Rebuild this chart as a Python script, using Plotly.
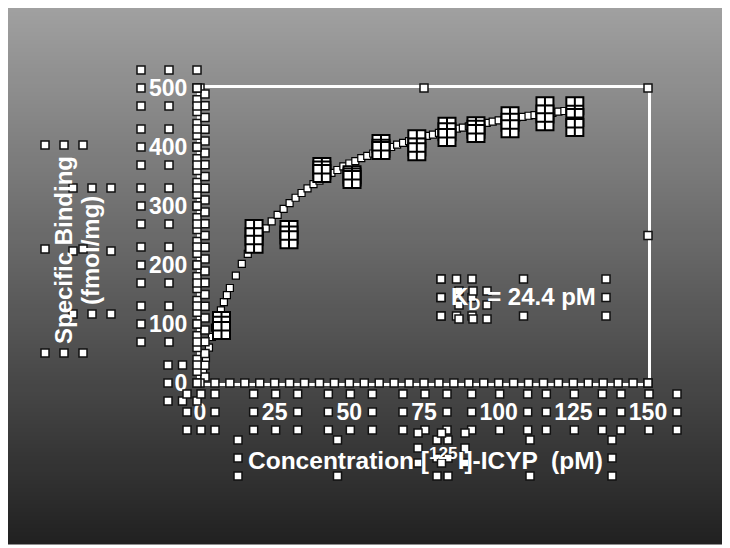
import plotly.graph_objects as go

# ---------------- data ----------------
conc = [7.2, 18.1, 29.8, 40.8, 50.9, 60.6, 72.6, 82.7, 92.4, 103.8, 115.5, 125.5]
rep_a = [106, 262, 260, 367, 353, 406, 414, 435, 436, 453, 470, 470]
rep_b = [98, 248, 251, 361, 349, 398, 400, 426, 430, 442, 456, 450]
rep_c = [89, 235, 243, 355, 345, 394, 392, 416, 423, 431, 443, 433]

fit_x = [0, 1, 2, 3, 4, 5, 6, 7, 8, 9, 10, 12, 14, 16, 18, 20, 22, 24, 26, 28, 30,
         32, 34, 36, 38, 40, 42, 44, 46, 48, 50, 52, 54, 56, 58, 60, 62, 64, 66, 68,
         70, 72, 74, 76, 78, 80, 82, 84, 86, 88, 90, 92, 94, 96, 98, 100, 102, 104,
         106, 108, 110, 112, 114, 116, 118, 120, 122, 124, 126]
fit_y = [0, 22, 42, 60, 78, 94, 109, 123, 137, 149, 161, 182, 202, 219, 235, 249,
         262, 274, 285, 295, 305, 314, 322, 330, 337, 343, 350, 356, 361, 367, 372,
         376, 381, 385, 389, 393, 397, 400, 404, 407, 410, 413, 416, 419, 421, 424,
         426, 429, 431, 433, 435, 437, 439, 441, 443, 445, 446, 448, 450, 451, 453,
         454, 455, 457, 458, 460, 461, 462, 463]

x_ticks = [0, 25, 50, 75, 100, 125, 150]
y_ticks = [0, 100, 200, 300, 400, 500]
x_title = "Concentration [<sup>125</sup>I]-ICYP &nbsp;(pM)"
y_title_1 = "Specific Binding"
y_title_2 = "(fmol/mg)"
kd_text = "K<sub>D</sub> = 24.4 pM"

# ---------------- layout geometry (page pixels; page has 8px body margin) ----------------
OFF = 8
W, H = 730 - OFF, 548 - OFF
PL, PR, PT, PB = 200, 648, 88, 383      # plot area in page pixels
L, R, T, B = PL - OFF, PR - OFF, PT - OFF, PB - OFF
XMAX, YMAX = 150.0, 500.0


def pxp(px):
    """page x pixel -> paper fraction"""
    return (px - PL) / (PR - PL)


def pyp(py):
    """page y pixel -> paper fraction"""
    return (PB - py) / (PB - PT)


def box_handles(x0, x1, y0, y1):
    xm, ym = (x0 + x1) / 2, (y0 + y1) / 2
    return [(x0, y0), (xm, y0), (x1, y0), (x0, ym), (x1, ym), (x0, y1), (xm, y1), (x1, y1)]


FONT = "Liberation Sans, Arial, sans-serif"

fig = go.Figure()

# background gradient (page y 4 .. 544, x 4 .. 730)
shapes = []
n = 135
for i in range(n):
    p0 = 4 + i * 4
    p1 = p0 + 4.5
    c = int(round(161 - (161 - 33) * (p0 + 2 - 4) / 540))
    shapes.append(dict(type="rect", xref="paper", yref="paper",
                       x0=pxp(4), x1=pxp(740), y0=pyp(p1), y1=pyp(p0),
                       fillcolor=f"rgb({c},{c},{c})", line=dict(width=0), layer="below"))

# fitted curve (small square markers)
fig.add_trace(go.Scatter(x=fit_x, y=fit_y, mode="markers",
                         marker=dict(symbol="square", size=7, color="white",
                                     line=dict(color="black", width=1.2)),
                         cliponaxis=False, showlegend=False, hoverinfo="skip"))

# replicate data points
for reps in (rep_a, rep_b, rep_c):
    fig.add_trace(go.Scatter(x=conc, y=reps, mode="markers",
                             marker=dict(symbol="square-cross", size=17, color="white",
                                         line=dict(color="black", width=2)),
                             cliponaxis=False, showlegend=False))

# selection handles (decoration derived from element boxes / axes), page pixels
sx = (PR - PL) / XMAX
sy = (PB - PT) / YMAX
hp = []
for (hx, hy) in [(PL, PT), ((PL + PR) / 2, PT), (PR, PT), (PR, (PT + PB) / 2), (PR, PB)]:
    hp.append((hx, hy))
for k, v in enumerate(range(0, 501, 10)):
    hp.append((PL - 3 if k % 2 == 0 else PL + 5, PB - v * sy))
for v in range(0, 151, 5):
    hp.append((PL + v * sx, PB))
for v in y_ticks:
    cy = PB - v * sy
    w = 56 if v >= 100 else 29
    hp += box_handles(197 - w, 197, cy - 18, cy + 18)
for v in x_ticks:
    cx = PL + v * sx
    hw = 28 if v >= 100 else (22 if v >= 10 else 14)
    hp += box_handles(cx + 1 - hw, cx + 1 + hw, 394, 430)
hp += box_handles(45, 83, 145, 353)
hp += box_handles(73, 111, 188, 314)
hp += box_handles(238, 437, 440, 476)
hp += box_handles(448, 612, 440, 476)
hp += box_handles(418, 465, 433, 463)
hp += box_handles(441, 606, 279, 316)
hp += box_handles(441, 472, 279, 316)
hp += box_handles(459, 487, 291, 319)

for (hx, hy) in hp:
    shapes.append(dict(type="rect", xref="paper", yref="paper",
                       xsizemode="pixel", ysizemode="pixel",
                       xanchor=pxp(hx), yanchor=pyp(hy),
                       x0=-4, x1=4, y0=-4, y1=4,
                       fillcolor="white", line=dict(color="#111111", width=1.5),
                       layer="above"))


def ann(text, px, py, size, angle=0):
    return dict(text=text, x=pxp(px), y=pyp(py), xref="paper", yref="paper",
                xanchor="center", yanchor="middle", showarrow=False, textangle=angle,
                font=dict(family=FONT, size=size, color="white", weight=700))


annotations = [
    ann(y_title_1, 63, 250, 24, -90),
    ann(y_title_2, 91, 251, 24, -90),
    ann(x_title, 425, 458, 24.5),
    ann(kd_text, 523, 298, 24),
]

fig.update_layout(
    width=W, height=H,
    margin=dict(l=L, r=W - R, t=T, b=H - B, pad=0),
    paper_bgcolor="white", plot_bgcolor="rgba(0,0,0,0)",
    shapes=shapes, annotations=annotations,
    xaxis=dict(range=[0, XMAX], tickvals=x_ticks, showgrid=False, zeroline=False,
               showline=True, linecolor="white", linewidth=3, mirror=True,
               ticks="", ticklabelstandoff=6,
               tickfont=dict(family=FONT, size=23, color="white", weight=700)),
    yaxis=dict(range=[0, YMAX], tickvals=y_ticks, showgrid=False, zeroline=False,
               showline=True, linecolor="white", linewidth=3, mirror=True,
               ticks="", ticklabelstandoff=5,
               tickfont=dict(family=FONT, size=23, color="white", weight=700)),
)

fig.write_html("out.html")
